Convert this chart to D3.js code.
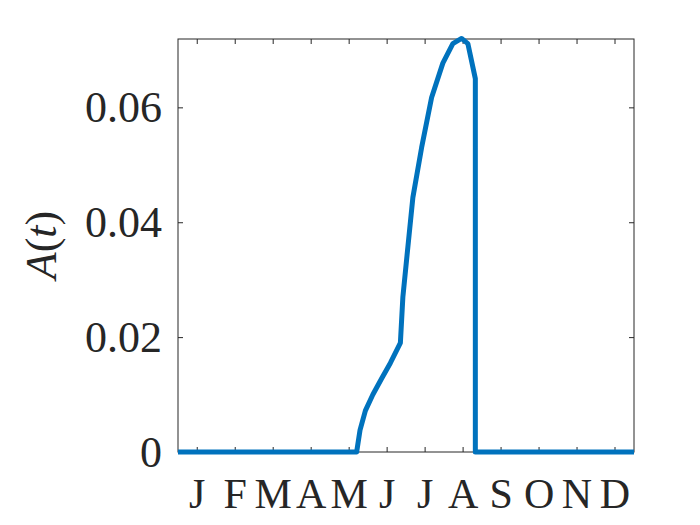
<!DOCTYPE html>
<html>
<head>
<meta charset="utf-8">
<script src="https://cdn.jsdelivr.net/npm/d3@7"></script>
<style>
  body { margin: 0; background: #fff; }
  text { font-family: "Liberation Serif", "Times New Roman", serif; fill: #262626; }
</style>
</head>
<body>
<svg id="chart" width="700" height="525"></svg>
<script>
// data (day of year, A(t))
const days = [0, 143, 145.7, 150, 156, 163, 170, 178, 180, 184, 188, 195, 203, 212, 220, 227, 232, 238, 238, 365];
const values = [0, 0, 0.0038, 0.0072, 0.0100, 0.0128, 0.0155, 0.019, 0.027, 0.0357, 0.0443, 0.053, 0.0617, 0.0677, 0.0711, 0.072, 0.0711, 0.065, 0, 0];
const monthLabels = ["J", "F", "M", "A", "M", "J", "J", "A", "S", "O", "N", "D"];
const monthTicks = monthLabels.map((m, i) => 15 + i * 30.4);
const yTicks = [0, 0.02, 0.04, 0.06];

const svg = d3.select("#chart");
const mLeft = 178, mRight = 634, mTop = 39, mBottom = 452;

var x = d3.scaleLinear().domain([0, 365]).range([mLeft, mRight]);
var y = d3.scaleLinear().domain([0, 0.0719]).range([mBottom, mTop]);

// axes with inward ticks
svg.append("g").attr("transform", `translate(0,${mBottom})`)
  .call(d3.axisBottom(x).tickValues(monthTicks).tickSize(-5).tickPadding(26)
    .tickFormat((d, i) => monthLabels[i]))
  .call(g => g.selectAll("text").attr("font-size", 42).attr("dy", "0.71em"));
svg.append("g").attr("transform", `translate(0,${mTop})`)
  .call(d3.axisTop(x).tickValues(monthTicks).tickSize(-5).tickFormat(""));
svg.append("g").attr("transform", `translate(${mLeft},0)`)
  .call(d3.axisLeft(y).tickValues(yTicks).tickSize(-5).tickPadding(16)
    .tickFormat(d => d === 0 ? "0" : d3.format(".2f")(d)))
  .call(g => g.selectAll("text").attr("font-size", 44));
svg.append("g").attr("transform", `translate(${mRight},0)`)
  .call(d3.axisRight(y).tickValues(yTicks).tickSize(-5).tickFormat(""));

svg.selectAll(".domain").remove();
svg.selectAll(".tick line").attr("stroke", "#262626");
svg.append("rect").attr("x", mLeft).attr("y", mTop)
  .attr("width", mRight - mLeft).attr("height", mBottom - mTop)
  .attr("fill", "none").attr("stroke", "#262626").attr("stroke-width", 1);

// line
var line = d3.line().x((d, i) => x(days[i])).y(d => y(d));
svg.append("path").datum(values)
  .attr("d", line)
  .attr("fill", "none").attr("stroke", "#0072BD").attr("stroke-width", 5)
  .attr("stroke-linejoin", "round");

// y label
svg.append("text")
  .attr("transform", `translate(56,245) rotate(-90)`)
  .attr("text-anchor", "middle").attr("font-size", 44)
  .html('<tspan font-style="italic">A</tspan>(<tspan font-style="italic">t</tspan>)');
</script>
</body>
</html>
